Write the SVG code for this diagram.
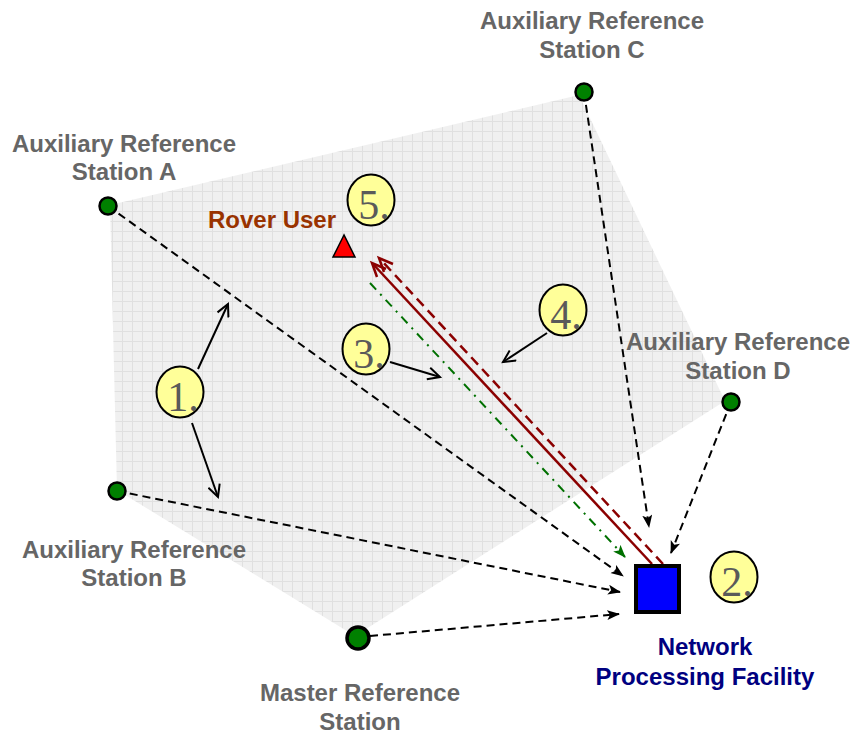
<svg xmlns="http://www.w3.org/2000/svg" width="854" height="735" viewBox="0 0 854 735">
<defs>
<pattern id="grid" width="10" height="10" patternUnits="userSpaceOnUse" x="2" y="1">
<rect width="10" height="10" fill="#f0f0f0"/>
<path d="M0,0.5 H10 M0.5,0 V10" stroke="#e0e0e0" stroke-width="1" fill="none"/>
</pattern>
<marker id="ahBlack" markerUnits="userSpaceOnUse" markerWidth="14" markerHeight="12" refX="12" refY="5" orient="auto">
<path d="M0,0 L13,5 L0,10 L3,5 z" fill="#000"/>
</marker>
<marker id="ahGreen" markerUnits="userSpaceOnUse" markerWidth="14" markerHeight="12" refX="12" refY="5" orient="auto">
<path d="M0,0 L13,5 L0,10 L3,5 z" fill="#007000"/>
</marker>
<marker id="ahOpen" markerUnits="userSpaceOnUse" markerWidth="16" markerHeight="14" refX="13" refY="7" orient="auto">
<path d="M1,1 L13,7 L1,13" fill="none" stroke="#000" stroke-width="2"/>
</marker>
</defs>
<style>
.lbl{font-family:"Liberation Sans",Arial,sans-serif;font-weight:bold;font-size:24px;fill:#666;text-anchor:middle}
.num{font-family:"Liberation Serif","Times New Roman",serif;font-size:42px;fill:#5a5a5a;text-anchor:middle}
.badge{fill:#ffff99;stroke:#000;stroke-width:2}
.stn{fill:#008000;stroke:#000;stroke-width:2.5}
.dash{fill:none;stroke:#000;stroke-width:2;stroke-dasharray:8 5;marker-end:url(#ahBlack)}
.ptr{fill:none;stroke:#000;stroke-width:2;marker-end:url(#ahOpen)}
.red{fill:none;stroke:#8b0000;stroke-width:2.5}
</style>

<polygon id="coverage" points="110,205 579,95 725,401 355,636 117,490" fill="url(#grid)"/>

<g id="connectors">
<line class="dash" x1="108" y1="206" x2="623" y2="576"/>
<line class="dash" x1="117" y1="491" x2="620" y2="592"/>
<line class="dash" x1="370" y1="636" x2="619" y2="614"/>
<line class="dash" x1="584" y1="92" x2="649" y2="527"/>
<line class="dash" x1="731" y1="402" x2="671" y2="553"/>
<line x1="370" y1="283" x2="625" y2="557" fill="none" stroke="#007000" stroke-width="2" stroke-dasharray="9 6 2 6" marker-end="url(#ahGreen)"/>
<line class="red" x1="652" y1="564" x2="373" y2="264"/>
<path class="red" d="M386,269 L372,263 L377,277"/>
<line class="red" x1="663" y1="564" x2="381" y2="260" stroke-dasharray="10 6"/>
<path class="red" d="M393,264 L379,258 L384,272"/>
<line class="ptr" x1="198" y1="369" x2="228" y2="304"/>
<line class="ptr" x1="192" y1="423" x2="218" y2="497"/>
<line class="ptr" x1="390" y1="362" x2="440" y2="377"/>
<line class="ptr" x1="547" y1="333" x2="503" y2="362"/>
</g>

<g id="station-a">
<circle class="stn" cx="108" cy="206" r="8.5"/>
<text class="lbl" x="124" y="152">Auxiliary Reference</text>
<text class="lbl" x="124" y="180">Station A</text>
</g>
<g id="station-b">
<circle class="stn" cx="117" cy="491" r="8.5"/>
<text class="lbl" x="134" y="558">Auxiliary Reference</text>
<text class="lbl" x="134" y="586">Station B</text>
</g>
<g id="station-c">
<circle class="stn" cx="584" cy="92" r="8.5"/>
<text class="lbl" x="592" y="29">Auxiliary Reference</text>
<text class="lbl" x="592" y="58">Station C</text>
</g>
<g id="station-d">
<circle class="stn" cx="731" cy="402" r="8.5"/>
<text class="lbl" x="738" y="350">Auxiliary Reference</text>
<text class="lbl" x="738" y="379">Station D</text>
</g>
<g id="master">
<circle cx="358" cy="638" r="11" fill="#008000" stroke="#000" stroke-width="3.5"/>
<text class="lbl" x="360" y="701">Master Reference</text>
<text class="lbl" x="360" y="730">Station</text>
</g>
<g id="facility">
<rect x="636" y="566" width="43" height="46" fill="#0000ff" stroke="#000" stroke-width="4"/>
<text class="lbl" x="705" y="655" style="fill:#000080">Network</text>
<text class="lbl" x="705" y="685" style="fill:#000080">Processing Facility</text>
</g>
<g id="rover">
<polygon points="344,235 333,257 355,257" fill="#ff0000" stroke="#000" stroke-width="1.5"/>
<text class="lbl" x="272" y="228" style="fill:#993300">Rover User</text>
</g>

<g id="badge-1"><ellipse class="badge" cx="180" cy="392" rx="23.5" ry="25.5"/><text class="num" x="183" y="411">1.</text></g>
<g id="badge-2"><ellipse class="badge" cx="734" cy="577" rx="23.5" ry="25.5"/><text class="num" x="737" y="596">2.</text></g>
<g id="badge-3"><ellipse class="badge" cx="366" cy="349" rx="23.5" ry="25.5"/><text class="num" x="369" y="368">3.</text></g>
<g id="badge-4"><ellipse class="badge" cx="563" cy="310" rx="23.5" ry="25.5"/><text class="num" x="566" y="329">4.</text></g>
<g id="badge-5"><ellipse class="badge" cx="371" cy="200" rx="23.5" ry="25.5"/><text class="num" x="374" y="219">5.</text></g>
</svg>
